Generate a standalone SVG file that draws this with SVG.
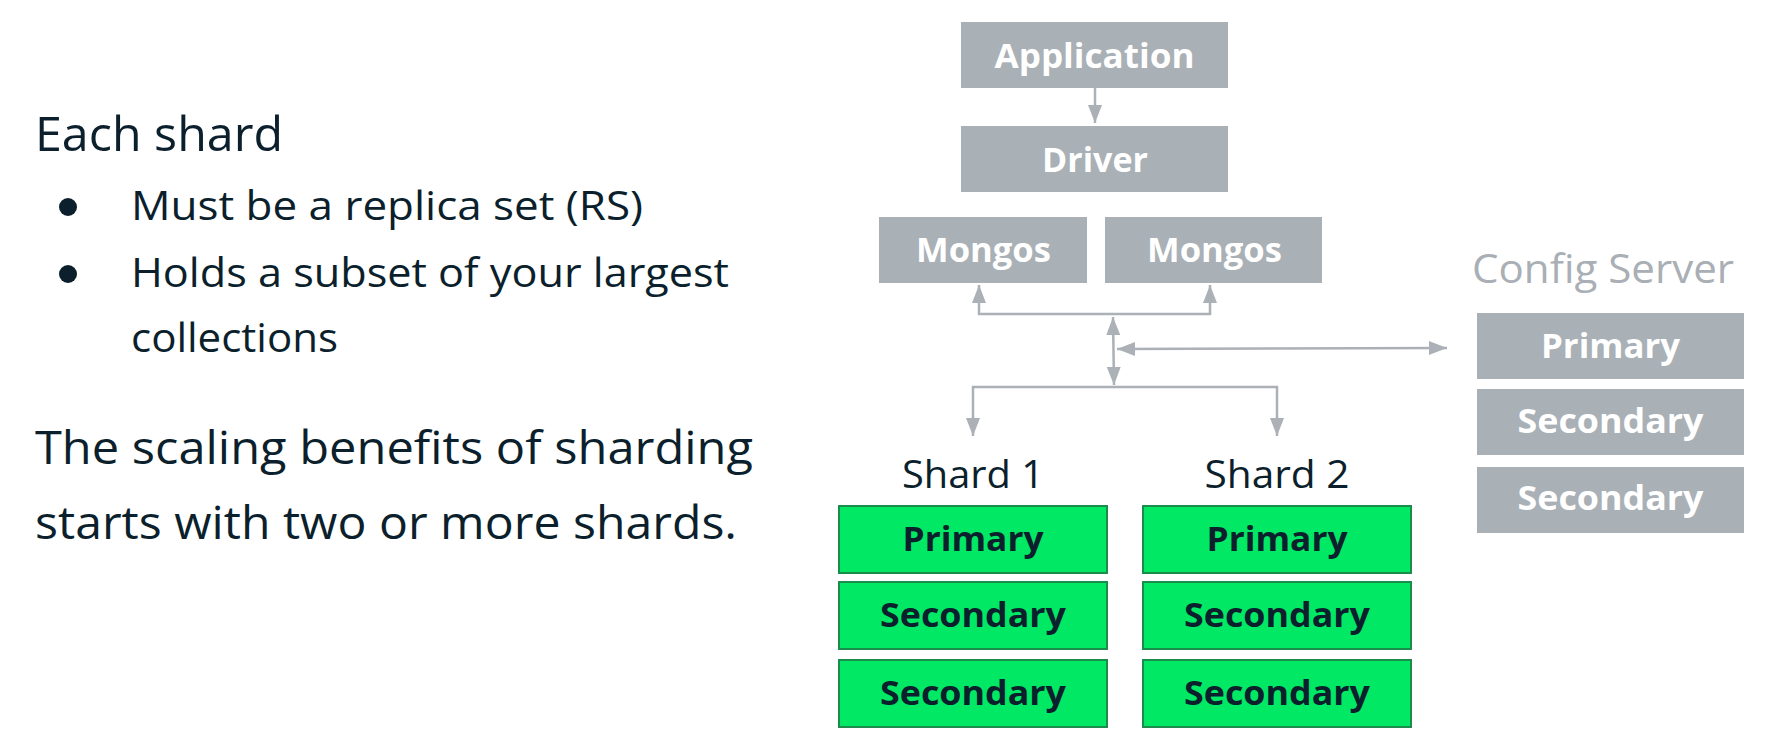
<svg xmlns="http://www.w3.org/2000/svg" width="1780" height="753" viewBox="0 0 1780 753">
<style>
.txt{font-family:"Open Sans","Liberation Sans",sans-serif;fill:#0b1f2c;}
.gbox{fill:#a9b0b6;}
.gtxt{font-family:"Open Sans","Liberation Sans",sans-serif;font-weight:700;fill:#ffffff;font-size:34px;text-anchor:middle;}
.sbox{fill:#00e864;stroke:#1b8c4c;stroke-width:2;}
.stxt{font-family:"Open Sans","Liberation Sans",sans-serif;font-weight:700;fill:#0b1f2c;font-size:34px;text-anchor:middle;}
.conn{fill:none;stroke:#abb1b6;stroke-width:2.5;}
</style>
<defs>
<marker id="ah" markerUnits="userSpaceOnUse" markerWidth="20" markerHeight="16" refX="18" refY="7" orient="auto-start-reverse">
<path d="M0,0 L18,7 L0,14 z" fill="#abb1b6"/>
</marker>
</defs>
<rect width="1780" height="753" fill="#ffffff"/>

<g id="left-text">
<text class="txt" x="35" y="151" font-size="48" textLength="248" lengthAdjust="spacingAndGlyphs">Each shard</text>
<circle cx="68" cy="207" r="9" fill="#0b1f2c"/>
<text class="txt" x="131" y="220" font-size="40" textLength="512" lengthAdjust="spacingAndGlyphs">Must be a replica set (RS)</text>
<circle cx="68" cy="274" r="9" fill="#0b1f2c"/>
<text class="txt" x="131" y="287" font-size="40" textLength="598" lengthAdjust="spacingAndGlyphs">Holds a subset of your largest</text>
<text class="txt" x="131" y="352" font-size="40" textLength="207" lengthAdjust="spacingAndGlyphs">collections</text>
<text class="txt" x="35" y="464" font-size="46" textLength="718" lengthAdjust="spacingAndGlyphs">The scaling benefits of sharding</text>
<text class="txt" x="35" y="539" font-size="46" textLength="702" lengthAdjust="spacingAndGlyphs">starts with two or more shards.</text>
</g>

<g id="connectors">
<line class="conn" x1="1095" y1="88" x2="1095" y2="123" marker-end="url(#ah)"/>
<polyline class="conn" points="979,285 979,314 1210,314 1210,285" marker-start="url(#ah)" marker-end="url(#ah)"/>
<line class="conn" x1="1113" y1="317" x2="1114" y2="385" marker-start="url(#ah)" marker-end="url(#ah)"/>
<line class="conn" x1="1117" y1="349" x2="1447" y2="348" marker-start="url(#ah)" marker-end="url(#ah)"/>
<polyline class="conn" points="973,436 973,387 1277,387 1277,436" marker-start="url(#ah)" marker-end="url(#ah)"/>
</g>

<g id="application">
<rect class="gbox" x="961" y="22" width="267" height="66"/>
<text class="gtxt" x="1094.5" y="68" textLength="200" lengthAdjust="spacingAndGlyphs">Application</text>
</g>
<g id="driver">
<rect class="gbox" x="961" y="126" width="267" height="66"/>
<text class="gtxt" x="1095" y="172" textLength="106" lengthAdjust="spacingAndGlyphs">Driver</text>
</g>
<g id="mongos1">
<rect class="gbox" x="879" y="217" width="208" height="66"/>
<text class="gtxt" x="983.5" y="262" textLength="135" lengthAdjust="spacingAndGlyphs">Mongos</text>
</g>
<g id="mongos2">
<rect class="gbox" x="1105" y="217" width="217" height="66"/>
<text class="gtxt" x="1214.5" y="262" textLength="135" lengthAdjust="spacingAndGlyphs">Mongos</text>
</g>

<g id="config-server">
<text x="1603" y="283" font-family="Open Sans, Liberation Sans, sans-serif" font-size="40" fill="#a9afb5" text-anchor="middle" textLength="262" lengthAdjust="spacingAndGlyphs">Config Server</text>
<rect class="gbox" x="1477" y="313" width="267" height="66"/>
<text class="gtxt" x="1610.5" y="358" textLength="139" lengthAdjust="spacingAndGlyphs">Primary</text>
<rect class="gbox" x="1477" y="389" width="267" height="66"/>
<text class="gtxt" x="1610.5" y="433" textLength="186" lengthAdjust="spacingAndGlyphs">Secondary</text>
<rect class="gbox" x="1477" y="467" width="267" height="66"/>
<text class="gtxt" x="1610.5" y="510" textLength="186" lengthAdjust="spacingAndGlyphs">Secondary</text>
</g>

<g id="shard1">
<text class="txt" x="973" y="488" font-size="38" text-anchor="middle" textLength="142" lengthAdjust="spacingAndGlyphs">Shard 1</text>
<rect class="sbox" x="839" y="506" width="268" height="67"/>
<text class="stxt" x="973" y="551" textLength="141" lengthAdjust="spacingAndGlyphs">Primary</text>
<rect class="sbox" x="839" y="582" width="268" height="67"/>
<text class="stxt" x="973" y="627" textLength="186" lengthAdjust="spacingAndGlyphs">Secondary</text>
<rect class="sbox" x="839" y="660" width="268" height="67"/>
<text class="stxt" x="973" y="705" textLength="186" lengthAdjust="spacingAndGlyphs">Secondary</text>
</g>

<g id="shard2">
<text class="txt" x="1277" y="488" font-size="38" text-anchor="middle" textLength="145" lengthAdjust="spacingAndGlyphs">Shard 2</text>
<rect class="sbox" x="1143" y="506" width="268" height="67"/>
<text class="stxt" x="1277" y="551" textLength="141" lengthAdjust="spacingAndGlyphs">Primary</text>
<rect class="sbox" x="1143" y="582" width="268" height="67"/>
<text class="stxt" x="1277" y="627" textLength="186" lengthAdjust="spacingAndGlyphs">Secondary</text>
<rect class="sbox" x="1143" y="660" width="268" height="67"/>
<text class="stxt" x="1277" y="705" textLength="186" lengthAdjust="spacingAndGlyphs">Secondary</text>
</g>
</svg>
